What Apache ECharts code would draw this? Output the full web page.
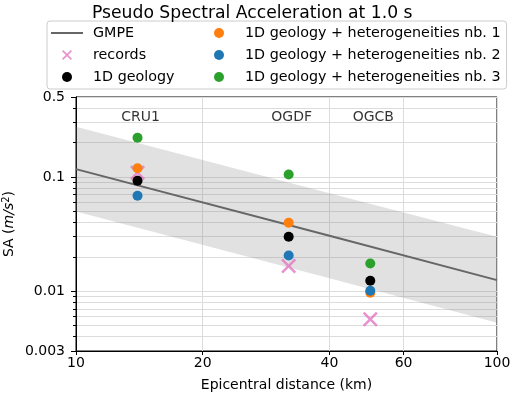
<!DOCTYPE html>
<html><head><meta charset="utf-8">
<script src="https://cdn.jsdelivr.net/npm/echarts@6/dist/echarts.min.js"></script>
<style>html,body{margin:0;padding:0;background:#fff}#c{width:512px;height:398px}</style>
</head><body><div id="c"></div>
<script>
// ---- data ----
const stationNames = ['CRU1', 'OGDF', 'OGCB'];
const stationDist = [14, 32, 50];
const stationLabelY = [0.33, 0.33, 0.33];
const records = [0.109, 0.0166, 0.00568];
const geology1D = [0.0926, 0.030, 0.01236];
const hetero1 = [0.119, 0.0397, 0.0097];
const hetero2 = [0.0685, 0.0205, 0.0101];
const hetero3 = [0.220, 0.105, 0.0175];
const gmpeDist = [10, 40, 100];
const gmpeMedian = [0.117, 0.0306, 0.0125];
const gmpeUpper = [0.275, 0.072, 0.030];
const gmpeLower = [0.0497, 0.0130, 0.0053];
const xTicks = [10, 20, 40, 60, 100];
const yMajorTicks = [0.003, 0.01, 0.1, 0.5];
const yMinorTicks = [0.004, 0.005, 0.006, 0.007, 0.008, 0.009, 0.02, 0.03, 0.04, 0.05, 0.06, 0.07, 0.08, 0.09, 0.2, 0.3, 0.4];

const FONT = 'DejaVu Sans';
const pair = (xs, ys) => xs.map((x, i) => [x, ys[i]]);
const fmt = v => String(parseFloat((+v).toPrecision(6)));
const xPath = 'path://M0,1.2L1.2,0L5,3.8L8.8,0L10,1.2L6.2,5L10,8.8L8.8,10L5,6.2L1.2,10L0,8.8L3.8,5Z';
const linePath = 'path://M0,0L32,0L32,2L0,2Z';

const chart = echarts.init(document.getElementById('c'), null, {renderer: 'canvas'});
const wide = 104;
chart.setOption({
  backgroundColor: '#fff',
  animation: false,
  textStyle: {fontFamily: FONT, color: '#000'},
  title: {
    text: 'Pseudo Spectral Acceleration at 1.0 s',
    left: 87, top: 0,
    textStyle: {fontFamily: FONT, fontSize: 17.2, fontWeight: 'normal', color: '#000'}
  },
  legend: {
    orient: 'vertical',
    left: 47, top: 21, height: 62,
    padding: [4, 6, 4, 4],
    itemWidth: 32, itemHeight: 10, itemGap: 6,
    borderColor: '#cccccc', borderWidth: 1, borderRadius: 3,
    textStyle: {fontFamily: FONT, fontSize: 14.3, color: '#000', lineHeight: 16, padding: [0, 0, 0, 5]},
    data: [
      {name: 'GMPE', icon: linePath, textStyle: {width: wide}},
      {name: 'records', icon: xPath, textStyle: {width: wide}},
      {name: '1D geology', icon: 'circle', textStyle: {width: wide}},
      {name: '1D geology + heterogeneities nb. 1', icon: 'circle'},
      {name: '1D geology + heterogeneities nb. 2', icon: 'circle'},
      {name: '1D geology + heterogeneities nb. 3', icon: 'circle'}
    ]
  },
  grid: {left: 76, right: 15, top: 97, bottom: 47, show: true, borderColor: '#000', borderWidth: 1,
    backgroundColor: 'transparent', containLabel: false, outerBoundsMode: 'none'},
  xAxis: {
    type: 'log', logBase: 10, min: 10, max: 100,
    name: 'Epicentral distance (km)', nameLocation: 'middle', nameGap: 27, nameMoveOverlap: false,
    nameTextStyle: {fontFamily: FONT, fontSize: 14, color: '#000'},
    axisLine: {lineStyle: {color: '#000', width: 1}},
    axisTick: {customValues: xTicks, length: 4, lineStyle: {color: '#000'}},
    axisLabel: {customValues: xTicks, fontSize: 14, color: '#000', margin: 5, formatter: fmt},
    splitLine: {show: true, lineStyle: {color: '#dcdcdc', width: 1}},
    minorTick: {show: false}, minorSplitLine: {show: false}
  },
  yAxis: [{
    type: 'log', logBase: 10, min: 0.003, max: 0.5,
    axisLine: {lineStyle: {color: '#000', width: 1}},
    axisTick: {customValues: yMinorTicks.concat(yMajorTicks), length: 3, lineStyle: {color: '#000'}},
    axisLabel: {show: false},
    splitLine: {show: true, lineStyle: {color: '#dcdcdc', width: 1}}
  }, {
    type: 'log', logBase: 10, min: 0.003, max: 0.5, position: 'left',
    name: '{a|SA (}{i|m/s}{s|2}{a|)}', nameLocation: 'middle', nameGap: 58, nameMoveOverlap: false,
    nameTextStyle: {fontFamily: FONT, fontSize: 14, color: '#000',
      rich: {a: {fontFamily: FONT, fontSize: 14, color: '#000'},
             i: {fontFamily: FONT, fontSize: 14, fontStyle: 'italic', color: '#000'},
             s: {fontFamily: FONT, fontSize: 10, color: '#000', padding: [0, 0, 7, 0]}}},
    axisLine: {lineStyle: {color: '#000', width: 1}},
    axisTick: {customValues: yMajorTicks, length: 5, lineStyle: {color: '#000'}},
    axisLabel: {customValues: yMajorTicks, fontSize: 14, color: '#000', margin: 11, formatter: fmt},
    splitLine: {show: false}
  }],
  series: [
    {
      name: 'band', type: 'custom', silent: true, z: 1,
      data: gmpeDist.map((d, i) => [d, gmpeUpper[i], gmpeLower[i]]),
      encode: {x: 0, y: [1, 2]},
      renderItem: (params, api) => {
        if (params.dataIndex !== 0) return null;
        const n = params.dataInsideLength;
        const up = [], lo = [];
        for (let i = 0; i < n; i++) {
          up.push(api.coord([api.value(0, i), api.value(1, i)]));
          lo.push(api.coord([api.value(0, i), api.value(2, i)]));
        }
        return {type: 'polygon', shape: {points: up.concat(lo.reverse())},
          style: {fill: 'rgba(128,128,128,0.24)', stroke: null}};
      }
    },
    {name: 'GMPE', type: 'line', data: pair(gmpeDist, gmpeMedian), symbol: 'none', z: 3,
      lineStyle: {color: '#666', width: 2}, itemStyle: {color: '#666'}},
    {name: 'records', type: 'scatter', data: pair(stationDist, records), symbol: xPath, symbolSize: 15, z: 4,
      itemStyle: {color: '#e377c2'}},
    {name: '1D geology', type: 'scatter', data: pair(stationDist, geology1D), symbolSize: 10, z: 5,
      itemStyle: {color: '#000', opacity: 1}},
    {name: '1D geology + heterogeneities nb. 1', type: 'scatter', data: pair(stationDist, hetero1), symbolSize: 10, z: 6,
      itemStyle: {color: '#ff7f0e', opacity: 1}},
    {name: '1D geology + heterogeneities nb. 2', type: 'scatter', data: pair(stationDist, hetero2), symbolSize: 10, z: 7,
      itemStyle: {color: '#1f77b4', opacity: 1}},
    {name: '1D geology + heterogeneities nb. 3', type: 'scatter', data: pair(stationDist, hetero3), symbolSize: 10, z: 8,
      itemStyle: {color: '#2ca02c', opacity: 1}},
    {name: 'stations', type: 'scatter', symbolSize: 0, silent: true, z: 9,
      data: stationDist.map((d, i) => [d, stationLabelY[i], stationNames[i]]),
      label: {show: true, position: 'inside', offset: [3, 0], formatter: p => p.value[2],
        fontFamily: FONT, fontSize: 14, color: '#000'}}
  ]
});
</script></body></html>
